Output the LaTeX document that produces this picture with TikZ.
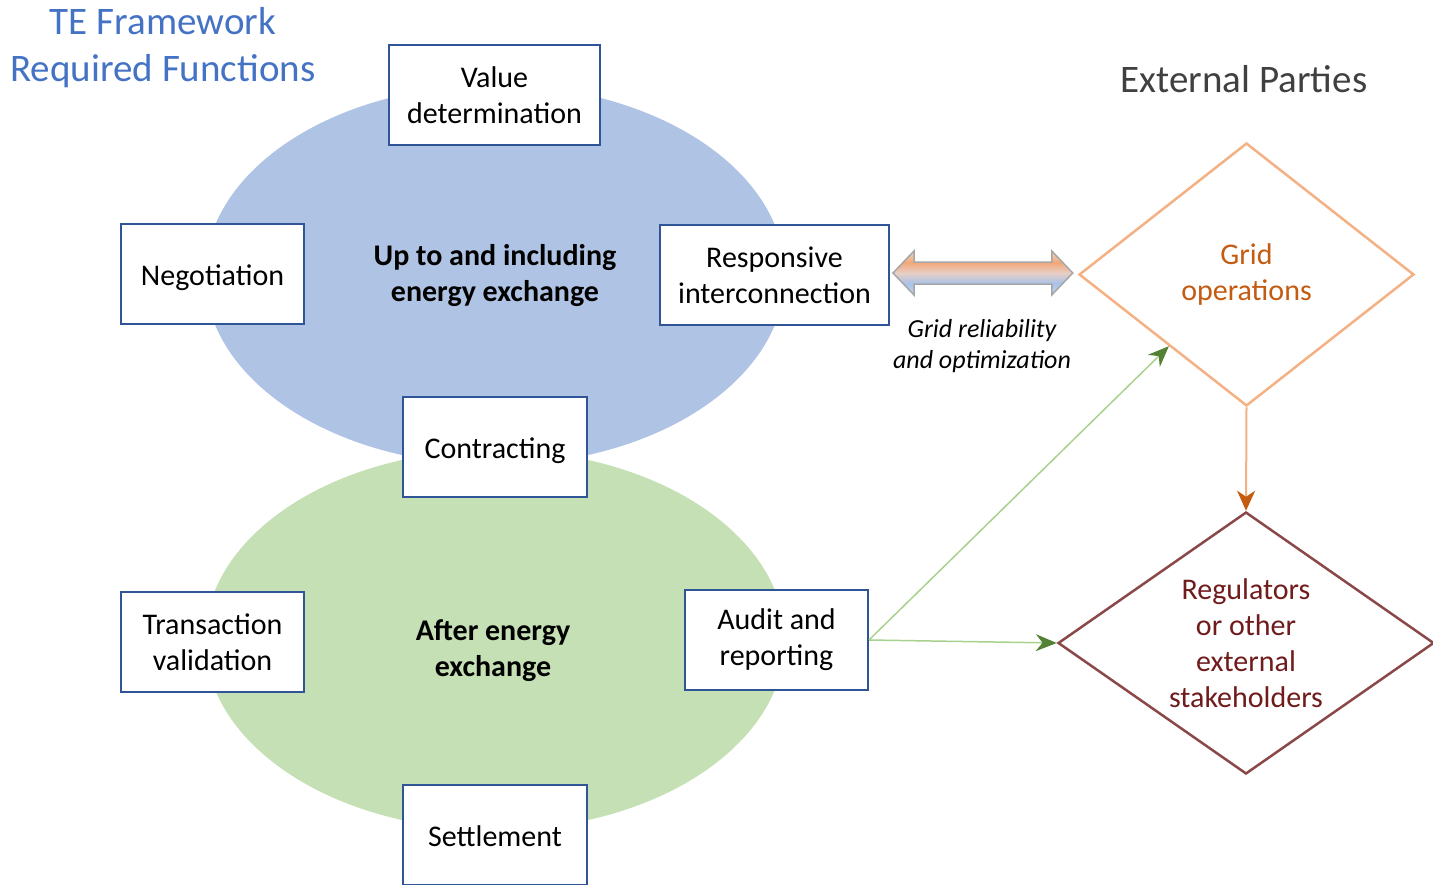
\documentclass[tikz,border=0pt]{standalone}
\usepackage{fontspec}
\setmainfont{Carlito}
\usetikzlibrary{shapes.geometric,arrows.meta,calc}

\definecolor{boxblue}{HTML}{2F5597}
\definecolor{ellblue}{HTML}{AFC3E4}
\definecolor{ellgreen}{HTML}{C5E0B4}
\definecolor{titleblue}{HTML}{4472C4}
\definecolor{darkgray}{HTML}{404040}
\definecolor{gridline}{HTML}{F4B183}
\definecolor{gridtext}{HTML}{C55A11}
\definecolor{regline}{HTML}{8B4848}
\definecolor{regtext}{HTML}{701C1C}
\definecolor{lightgreen}{HTML}{A9D18E}
\definecolor{headgreen}{HTML}{548235}
\definecolor{arrowgray}{HTML}{A6A6A6}
\definecolor{shblue}{HTML}{A9C2EA}
\definecolor{shbluepale}{HTML}{CBD5E5}
\definecolor{shmid}{HTML}{E8CFC6}
\definecolor{shorange}{HTML}{F2A877}
\definecolor{shorangepale}{HTML}{EAD8CC}

% two-tone fill of the double arrow: orange on top, blue below
\pgfdeclareverticalshading{twotone}{100bp}{%
  color(0bp)=(shbluepale); color(25bp)=(shbluepale); color(38bp)=(shblue);
  color(50bp)=(shmid); color(62bp)=(shorange); color(75bp)=(shorangepale);
  color(100bp)=(shorangepale)}

\begin{document}
\begin{tikzpicture}[x=1pt,y=-1pt,
  funcbox/.style={draw=boxblue, line width=2pt, fill=white, align=center,
    inner sep=0pt, text=black, font=\fontsize{30}{36}\selectfont},
  oneline/.style={text height=28pt, text depth=6pt},
  phase/.style={align=center, text=black, font=\fontsize{30}{36}\selectfont\bfseries},
  party/.style={diamond, align=center, inner sep=0pt, fill=white,
    font=\fontsize{30}{36}\selectfont},
  garrow/.style={draw=lightgreen, line width=1.5pt,
    -{Stealth[length=21pt,width=17pt,color=headgreen]}},
  oarrow/.style={draw=gridline, line width=2pt,
    -{Stealth[length=20pt,width=18pt,inset=6pt,color=gridtext]}}]

\useasboundingbox (0,0) rectangle (1433,884);

% the two phase ellipses
\fill[ellgreen] (495,640) ellipse [x radius=290pt, y radius=190pt];
\fill[ellblue] (495,275) ellipse [x radius=290pt, y radius=190pt];

% headings
\node[align=center, text=titleblue, font=\fontsize{39}{47}\selectfont] (title) at (163,48)
  {TE Framework\\Required Functions};
\node[text=darkgray, font=\fontsize{39}{47}\selectfont] (ext) at (1244,79) {External Parties};

% phase labels
\node[phase] (upper) at (495,276) {Up to and including\\energy exchange};
\node[phase] (lower) at (493,651) {After energy\\exchange};

% function boxes
\node[funcbox, minimum width=211pt, minimum height=100pt] (val) at (494.5,95) {Value\\determination};
\node[funcbox, oneline, minimum width=183pt, minimum height=100pt] (neg) at (212.5,274) {Negotiation};
\node[funcbox, minimum width=229pt, minimum height=100pt] (resp) at (774.5,275) {Responsive\\interconnection};
\node[funcbox, oneline, minimum width=184pt, minimum height=100pt] (con) at (495,447) {Contracting};
\node[funcbox, minimum width=183pt, minimum height=100pt] (trans) at (212.5,642) {Transaction\\validation};
\node[funcbox, minimum width=183pt, minimum height=100pt] (audit) at (776.5,640) {Audit and\\reporting};
\node[funcbox, oneline, minimum width=184pt, minimum height=100pt] (settle) at (495,835) {Settlement};

% external parties
\node[party, draw=gridline, line width=2.5pt, text=gridtext, shape aspect=1.27,
  minimum width=335pt, minimum height=263pt] (grid) at (1246.5,274.5) {Grid\\operations};
\node[party, draw=regline, line width=2.5pt, text=regtext, shape aspect=1.43,
  minimum width=376pt, minimum height=262pt] (reg) at (1246,643)
  {Regulators\\or other\\external\\stakeholders};

% double arrow between interconnection and grid operations
\coordinate (dl) at ($(resp.east)+(3,-2)$);
\coordinate (dr) at ($(grid.west)+(-5,-1.5)$);
\shade[shading=twotone, draw=arrowgray, line width=1.5pt, line join=miter]
  (dl) -- ++(21,-22) -- ++(0,11) -- ($(dr)+(-21,-11)$) -- ++(0,-11) -- (dr)
  -- ++(-21,22) -- ++(0,-11) -- ($(dl)+(21,11)$) -- ++(0,11) -- cycle;
\node[align=center, text=black, font=\fontsize{26}{31}\selectfont\itshape] (lbl)
  at (982,346) {Grid reliability\\and optimization};

% connectors
\coordinate (gridin) at ($(grid.west)!0.54!(grid.south)$);
\draw[garrow] (audit.east) -- (gridin);
\draw[garrow] (audit.east) -- (reg.west);
\draw[oarrow] (grid.south) -- (reg.north);

\end{tikzpicture}
\end{document}
